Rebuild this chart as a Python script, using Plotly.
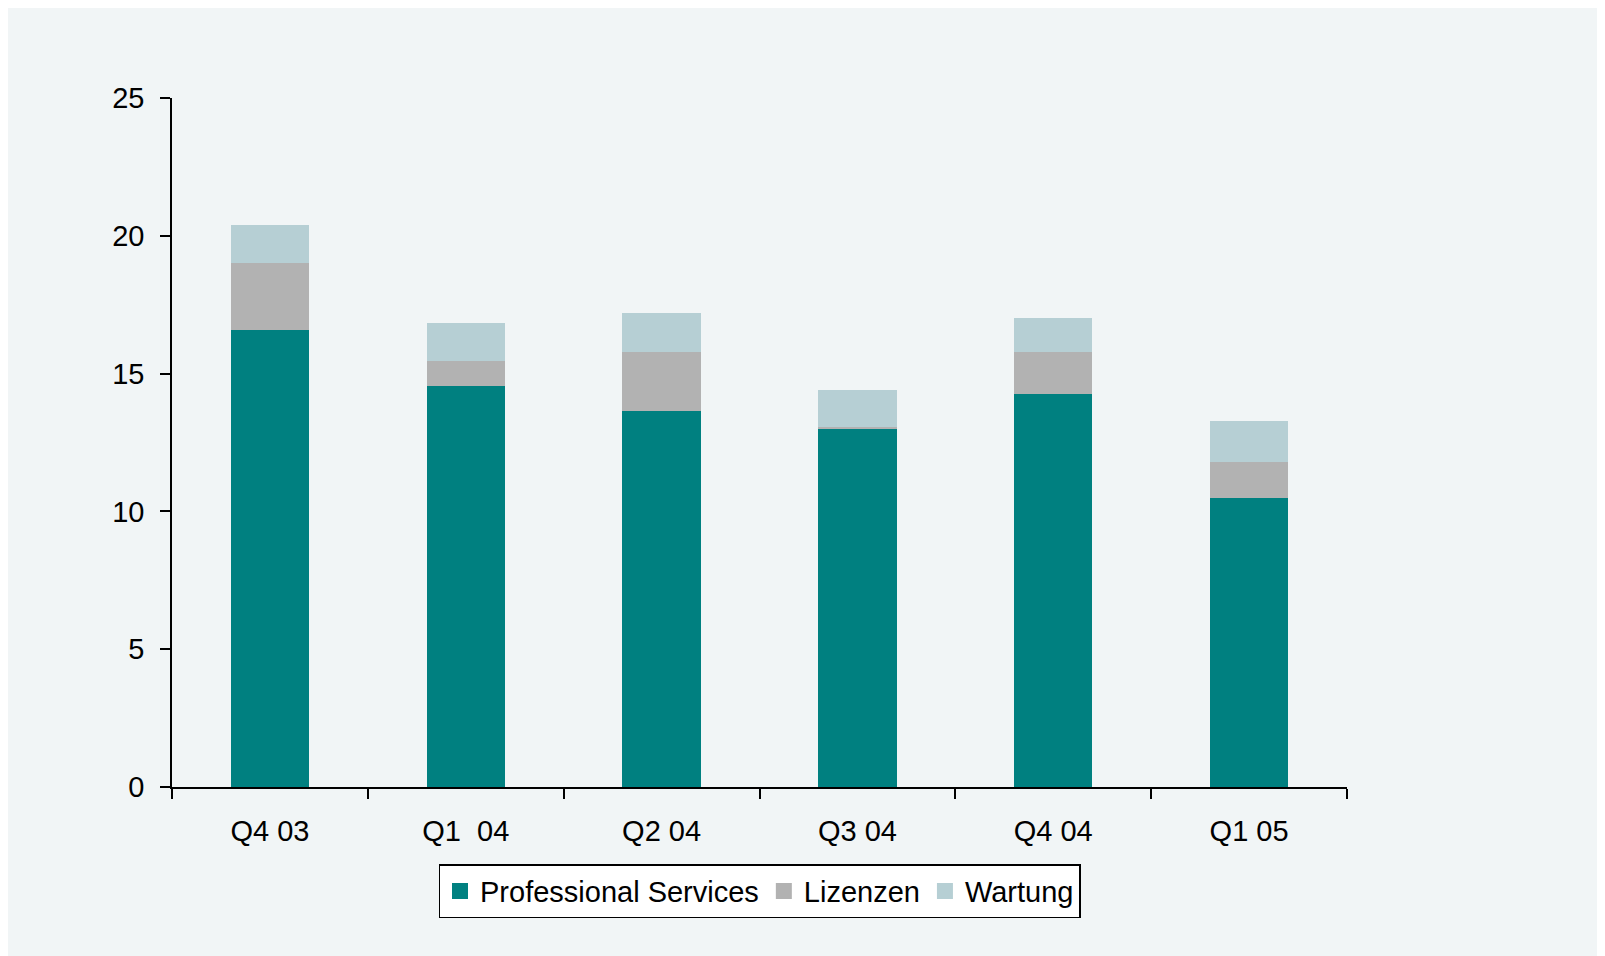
import plotly.graph_objects as go

# quarters on the x axis
quarters = ["Q4 03", "Q1\u00a0\u00a004", "Q2 04", "Q3 04", "Q4 04", "Q1 05"]

# revenue by type, stacked
series_names = ["Professional Services", "Lizenzen", "Wartung"]
professional_services = [16.6, 14.55, 13.65, 13.0, 14.25, 10.5]
lizenzen = [2.4, 0.9, 2.15, 0.06, 1.55, 1.3]
wartung = [1.4, 1.4, 1.4, 1.33, 1.23, 1.48]
colors = ["#008080", "#B2B2B2", "#B6CFD4"]

BG = "#F1F5F6"
FONT = "Liberation Sans, Arial, sans-serif"

fig = go.Figure()
for name, vals, col in zip(series_names, [professional_services, lizenzen, wartung], colors):
    fig.add_trace(go.Bar(x=quarters, y=vals, name=name, showlegend=False,
                         marker=dict(color=col, line=dict(width=0))))
    # legend entry with a bigger square swatch
    fig.add_trace(go.Scatter(x=[None], y=[None], mode="markers", name=name,
                             marker=dict(symbol="square", size=20, color=col)))

fig.update_layout(
    width=1605, height=956,
    barmode="stack", bargap=0.6,
    paper_bgcolor=BG, plot_bgcolor=BG,
    font=dict(family=FONT, size=29, color="black"),
    margin=dict(l=164, r=266, t=90, b=177),
    showlegend=True,
    legend=dict(orientation="h", x=0.5, xanchor="center", y=-0.112, yanchor="top",
                bgcolor="white", bordercolor="black", borderwidth=1.5,
                font=dict(size=29), traceorder="normal", itemclick=False,
                itemwidth=30, tracegroupgap=0),
    xaxis=dict(showline=True, linecolor="black", linewidth=1.5,
               ticks="outside", tickson="boundaries", ticklen=10, tickcolor="black",
               tickwidth=1.5, showgrid=False, zeroline=False, ticklabelstandoff=17),
    yaxis=dict(range=[0, 25], dtick=5, showline=True, linecolor="black", linewidth=1.5,
               ticks="outside", ticklen=10, tickcolor="black", tickwidth=1.5,
               showgrid=False, zeroline=False, ticklabelstandoff=10),
)

fig.write_html("out.html")
